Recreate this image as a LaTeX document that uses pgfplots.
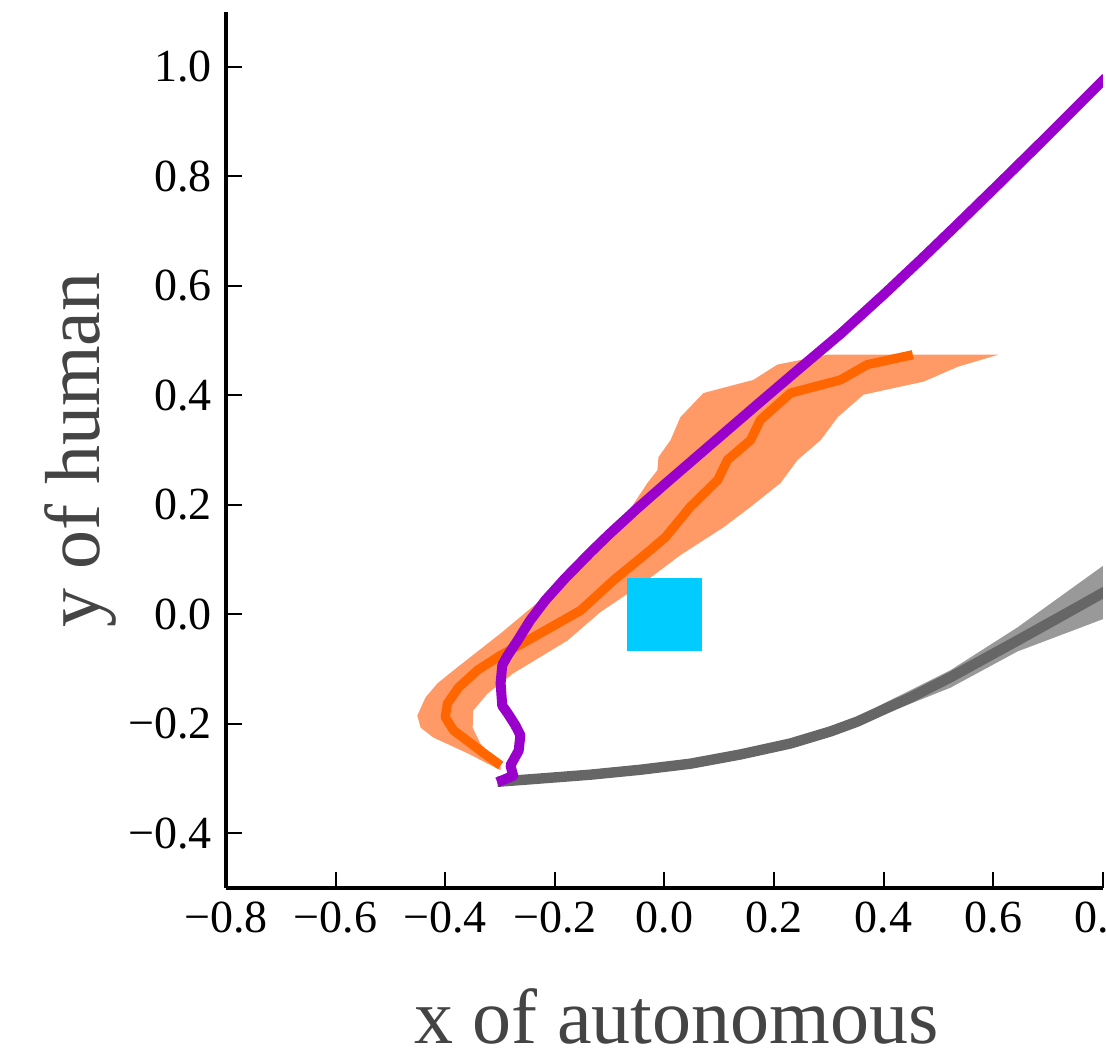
\documentclass[border=0pt]{standalone}
\usepackage{fontspec}
\setmainfont{Liberation Serif}
\usepackage{pgfplots}
\pgfplotsset{compat=1.18}
\definecolor{traj}{RGB}{153,0,204}
\definecolor{meanor}{RGB}{255,102,0}
\definecolor{bandor}{RGB}{255,153,102}
\definecolor{meangr}{RGB}{102,102,102}
\definecolor{bandgr}{RGB}{153,153,153}
\definecolor{goal}{RGB}{0,204,255}
\definecolor{labelgr}{RGB}{68,68,68}

\begin{document}
\begin{tikzpicture}
\begin{axis}[
    name=ax,
    scale only axis, width=219.25pt, height=219pt,
    xmin=-0.8, xmax=0.8, ymin=-0.5, ymax=1.1,
    axis lines=left,
    axis line style={-, line width=0.85pt, black},
    tick align=inside, major tick length=4pt,
    tick style={line width=0.5pt, black},
    xtick={-0.8,-0.6,-0.4,-0.2,0,0.2,0.4,0.6,0.8},
    xticklabels={−0.8,−0.6,−0.4,−0.2,0.0,0.2,0.4,0.6,0.8},
    ytick={-0.4,-0.2,0,0.2,0.4,0.6,0.8,1.0},
    yticklabels={−0.4,−0.2,0.0,0.2,0.4,0.6,0.8,1.0},
    ticklabel style={font=\fontsize{11.5}{13}\selectfont},
    xlabel={x of autonomous}, ylabel={y of human},
    label style={font=\fontsize{19.5}{22}\selectfont, text=labelgr},
    xlabel style={at={(axis description cs:0.5,-0.177)}, anchor=base, xshift=3pt},
    ylabel style={at={(axis description cs:-0.1437,0.5)}, anchor=base},
    every axis plot/.append style={mark=none, line join=round},
]
% grey: band then mean
\addplot[draw=none, fill=bandgr] coordinates {
    (0.303,-0.214) (0.400,-0.163) (0.522,-0.102) (0.644,-0.024) (0.805,0.092)
    (0.805,-0.007) (0.644,-0.068) (0.522,-0.134) (0.400,-0.183)
} --cycle;
\addplot[meangr, line width=2.6pt] coordinates {
    (-0.305,-0.306) (-0.226,-0.300) (-0.135,-0.293) (-0.044,-0.284) (0.047,-0.273)
    (0.139,-0.256) (0.230,-0.236) (0.303,-0.214) (0.352,-0.196) (0.400,-0.174)
    (0.449,-0.152) (0.522,-0.115) (0.644,-0.048) (0.723,-0.004) (0.805,0.042)
};
% orange: band then mean
\addplot[draw=none, fill=bandor] coordinates {
    (-0.299,-0.285) (-0.359,-0.254) (-0.422,-0.225) (-0.445,-0.207) (-0.451,-0.185)
    (-0.436,-0.152) (-0.414,-0.126) (-0.378,-0.097) (-0.336,-0.064) (-0.299,-0.035)
    (-0.226,0.026) (-0.190,0.062) (-0.141,0.104) (-0.099,0.150) (-0.058,0.199)
    (-0.031,0.240) (-0.013,0.263) (-0.011,0.287) (0.011,0.318) (0.029,0.360)
    (0.071,0.404) (0.162,0.428) (0.206,0.456) (0.297,0.474) (0.609,0.474)
    (0.535,0.452) (0.473,0.425) (0.363,0.401) (0.316,0.360) (0.285,0.318)
    (0.243,0.282) (0.212,0.240) (0.157,0.196) (0.108,0.159) (0.029,0.108)
    (-0.044,0.053) (-0.117,0.004) (-0.177,-0.048) (-0.276,-0.108) (-0.323,-0.145)
    (-0.349,-0.176) (-0.350,-0.207) (-0.336,-0.236) (-0.299,-0.276)
} --cycle;
\addplot[meanor, line width=2.3pt] coordinates {
    (-0.299,-0.276) (-0.336,-0.249) (-0.385,-0.212) (-0.400,-0.188) (-0.396,-0.163)
    (-0.376,-0.134) (-0.341,-0.102) (-0.299,-0.075) (-0.250,-0.048) (-0.153,0.007)
    (-0.093,0.062) (-0.026,0.117) (0.002,0.141) (0.047,0.196) (0.097,0.245)
    (0.115,0.282) (0.157,0.318) (0.175,0.355) (0.230,0.404) (0.321,0.428)
    (0.370,0.456) (0.453,0.474)
};
% goal square
\addplot[draw=none, fill=goal] coordinates {
    (-0.068,-0.068) (0.068,-0.068) (0.068,0.067) (-0.068,0.067)
} --cycle;
% purple trajectory
\addplot[traj, line width=2.5pt] coordinates {
    (-0.305,-0.307) (-0.276,-0.295) (-0.281,-0.276) (-0.266,-0.249) (-0.263,-0.221)
    (-0.272,-0.203) (-0.286,-0.181) (-0.296,-0.167) (-0.299,-0.126) (-0.296,-0.093)
    (-0.286,-0.075) (-0.268,-0.048) (-0.245,-0.011) (-0.217,0.026) (-0.181,0.066)
    (-0.135,0.113) (-0.100,0.147) (-0.050,0.193) (0.000,0.237) (0.066,0.294)
    (0.175,0.388) (0.250,0.452) (0.321,0.512) (0.400,0.584) (0.470,0.650)
    (0.527,0.705) (0.613,0.789) (0.686,0.861) (0.805,0.980)
};
\end{axis}
\pgfresetboundingbox
\path ([shift={(-56.5pt,-42pt)}]ax.south west) rectangle ([shift={(0.75pt,3pt)}]ax.north east);
\end{tikzpicture}
\end{document}
